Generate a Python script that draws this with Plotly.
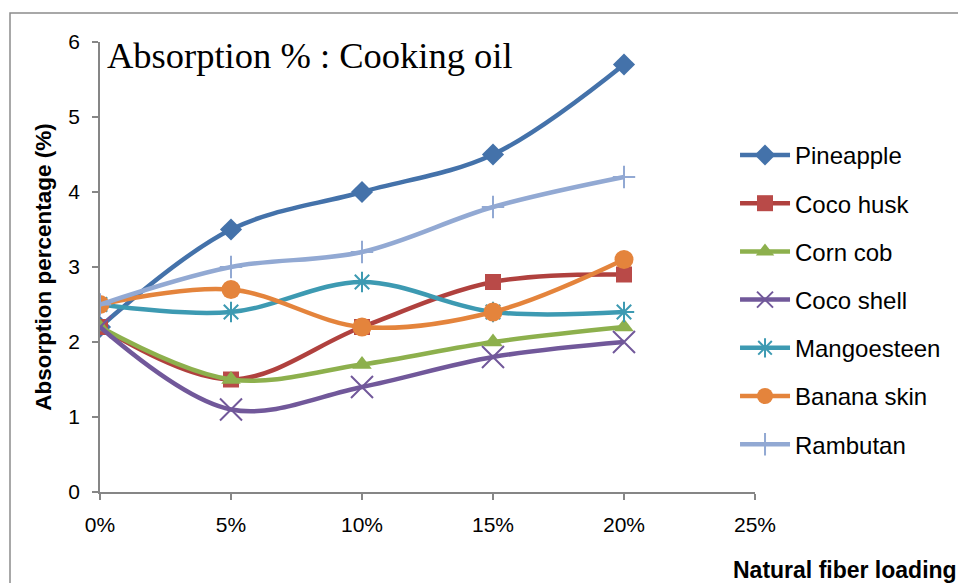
import plotly.graph_objects as go

# Fibre loading (fraction) and absorption percentages per natural fibre
loading = [0.00, 0.05, 0.10, 0.15, 0.20]
pineapple = [2.2, 3.5, 4.0, 4.5, 5.7]
coco_husk = [2.2, 1.5, 2.2, 2.8, 2.9]
corn_cob = [2.2, 1.5, 1.7, 2.0, 2.2]
coco_shell = [2.2, 1.1, 1.4, 1.8, 2.0]
mangoesteen = [2.5, 2.4, 2.8, 2.4, 2.4]
banana_skin = [2.5, 2.7, 2.2, 2.4, 3.1]
rambutan = [2.5, 3.0, 3.2, 3.8, 4.2]

x_ticks = [0.00, 0.05, 0.10, 0.15, 0.20, 0.25]
x_tick_labels = ["0%", "5%", "10%", "15%", "20%", "25%"]

series = [
    ("Pineapple", pineapple, "#4472AA", dict(symbol="diamond", size=17)),
    ("Coco husk", coco_husk, "#B0413E", dict(symbol="square", size=16, color="#B94A48")),
    ("Corn cob", corn_cob, "#8DB04D", dict(symbol="triangle-up", size=17)),
    ("Coco shell", coco_shell, "#71589A", dict(symbol="x-thin-open", size=22, line=dict(width=2, color="#71589A"))),
    ("Mangoesteen", mangoesteen, "#3D9AB2", dict(symbol="asterisk-open", size=17, line=dict(width=2, color="#3D9AB2"))),
    ("Banana skin", banana_skin, "#E4843C", dict(symbol="circle", size=19)),
    ("Rambutan", rambutan, "#92A9D3", dict(symbol="cross-thin-open", size=16, line=dict(width=2, color="#92A9D3"))),
]

fig = go.Figure()
for i, (name, ys, color, marker) in enumerate(series):
    m = dict(color=color)
    m.update(marker)
    fig.add_trace(go.Scatter(
        x=loading, y=ys, name=name, mode="lines+markers",
        line=dict(color=color, width=4.5, shape="spline", smoothing=1.0),
        marker=m, legendgroup=str(i),
    ))

axis_color = "#868686"
fig.update_layout(
    width=958, height=583,
    margin=dict(l=100, r=203, t=42, b=91),
    paper_bgcolor="white", plot_bgcolor="white",
    font=dict(family="Liberation Sans, Arial, sans-serif", color="black"),
    showlegend=True,
    legend=dict(
        x=0.9695, y=0.798, xanchor="left", yanchor="top",
        font=dict(size=24, family="Liberation Sans, Arial, sans-serif"),
        traceorder="grouped", tracegroupgap=14, itemwidth=50,
        bgcolor="rgba(0,0,0,0)",
    ),
    xaxis=dict(
        range=[0, 0.25], tickvals=x_ticks, ticktext=x_tick_labels,
        showgrid=False, zeroline=False, showline=True, linecolor=axis_color, linewidth=1.5,
        ticks="outside", ticklen=6, tickcolor=axis_color, tickwidth=1.5,
        tickfont=dict(size=21), ticklabelstandoff=7,
    ),
    yaxis=dict(
        range=[0, 6], dtick=1, tick0=0,
        showgrid=False, zeroline=False, showline=True, linecolor=axis_color, linewidth=1.5,
        ticks="outside", ticklen=6, tickcolor=axis_color, tickwidth=1.5,
        tickfont=dict(size=21), ticklabelstandoff=8,
        title=dict(text="<b>Absorption percentage (%)</b>", font=dict(size=22.5), standoff=10),
    ),
    shapes=[dict(
        type="rect", xref="paper", yref="paper",
        x0=(10 - 100) / 655, x1=1.6, y0=-0.5, y1=1 + (42 - 13) / 450,
        line=dict(color="#8C8C8C", width=1.5), fillcolor="rgba(0,0,0,0)", layer="below",
    )],
    annotations=[
        dict(text="Absorption % : Cooking oil", xref="paper", yref="paper",
             x=(105 - 100) / 655, y=1 - (56 - 42) / 450, xanchor="left", yanchor="middle",
             showarrow=False, font=dict(family="Liberation Serif, serif", size=36.5)),
        dict(text="<b>Natural fiber loading</b>", xref="paper", yref="paper",
             x=(731 - 100) / 655, y=-(570 - 492) / 450, xanchor="left", yanchor="middle",
             showarrow=False, font=dict(size=23)),
    ],
)

fig.write_html("out.html")
